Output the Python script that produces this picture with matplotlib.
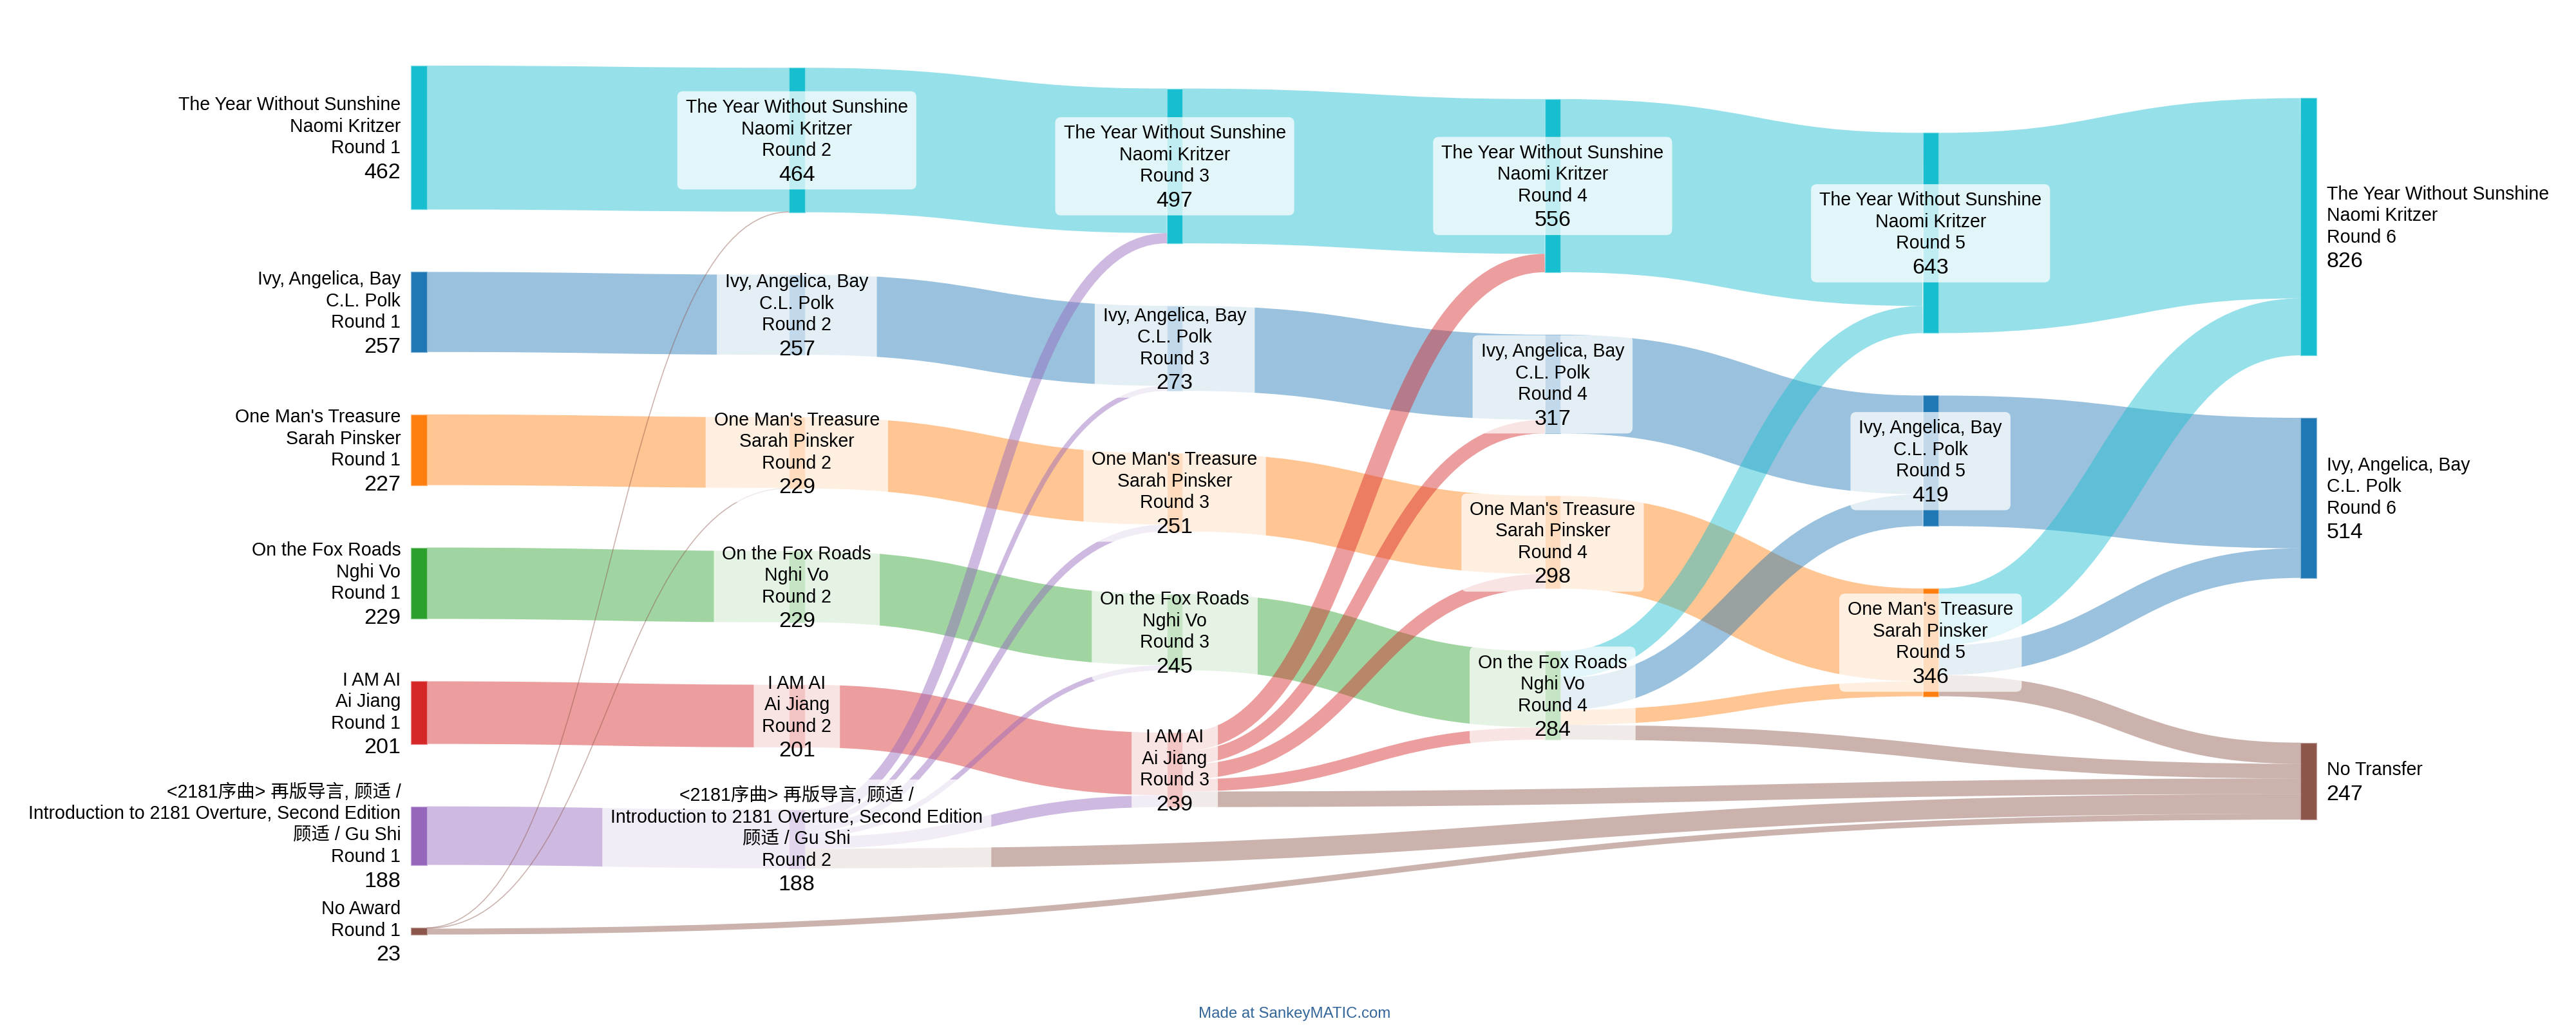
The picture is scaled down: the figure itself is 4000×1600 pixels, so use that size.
import matplotlib
matplotlib.use("Agg")
import matplotlib.pyplot as plt
from matplotlib.path import Path
from matplotlib.patches import PathPatch, Rectangle, FancyBboxPatch
from matplotlib.colors import to_rgb

plt.rcParams["font.family"] = ["Liberation Sans", "Noto Sans CJK SC", "DejaVu Sans"]

# ------------------------------------------------------------------ data
TITLES = [
    "The Year Without Sunshine",
    "Ivy, Angelica, Bay",
    "One Man's Treasure",
    "On the Fox Roads",
    "I AM AI",
    "<2181序曲> 再版导言, 顾适 /\nIntroduction to 2181 Overture, Second Edition",
    "No Award",
]
AUTHORS = ["Naomi Kritzer", "C.L. Polk", "Sarah Pinsker", "Nghi Vo", "Ai Jiang", "顾适 / Gu Shi", ""]
# votes held by each candidate in rounds 1..6 (list ends when eliminated)
VOTES = [
    [462, 464, 497, 556, 643, 826],
    [257, 257, 273, 317, 419, 514],
    [227, 229, 251, 298, 346],
    [229, 229, 245, 284],
    [201, 201, 239],
    [188, 188],
    [23],
]
ELIMINATED = [6, 5, 4, 3, 2]          # candidate eliminated after rounds 1..5
TRANSFERS = [                          # votes passed on to candidates 0..5
    [2, 0, 2, 0, 0, 0],
    [33, 16, 22, 16, 38, 0],
    [59, 44, 47, 39, 0, 0],
    [87, 102, 48, 0, 0, 0],
    [183, 95, 0, 0, 0, 0],
]
NO_TRANSFER = [19, 63, 50, 47, 68]     # exhausted ballots after each elimination
NO_TRANSFER_LABEL = "No Transfer"
ROUND_FMT = "Round {}"
CREDIT = "Made at SankeyMATIC.com"

# ------------------------------------------------------------------ style / layout constants
COLORS = ["#17becf", "#1f77b4", "#ff7f0e", "#2ca02c", "#d62728", "#9467bd", "#8c564b"]
NT_COLOR = "#8c564b"
FLOW_ALPHA = 0.45
W_PX, H_PX, DPI = 4000, 1600, 100
AREA_X0, AREA_X1 = 638.3, 3596.7
AREA_Y0, AREA_Y1 = 87.3, 1451.7
NODE_W = 24.4
NODE_PAD = 97.0
PX_PER_VOTE = 0.4838
ITERATIONS = 6
LABEL_GAP = 16
NORMAL_PX, VALUE_PX = 28.5, 34.0
LINE_PITCH, VALUE_PITCH = 33.5, 36.5
MIN_FLOW_PX = 1.6
PT = 72.0 / DPI


# ------------------------------------------------------------------ graph
def build_graph():
    nodes, key = [], {}
    for r in range(1, 7):
        for c in range(len(VOTES)):
            if len(VOTES[c]) >= r:
                n = dict(cand=c, rnd=r, src=[], tgt=[], index=len(nodes), color=COLORS[c])
                key[(c, r)] = n
                nodes.append(n)
    nt = dict(cand=None, rnd=None, src=[], tgt=[], index=len(nodes), color=NT_COLOR)
    key["NT"] = nt
    nodes.append(nt)
    links = []

    def add(a, b, v):
        l = dict(s=key[a], t=key[b], v=v, index=len(links))
        links.append(l)
        key[a]["src"].append(l)
        key[b]["tgt"].append(l)

    for r in range(1, 6):
        for c in range(len(VOTES)):
            if len(VOTES[c]) > r:
                add((c, r), (c, r + 1), VOTES[c][r - 1])
        e = ELIMINATED[r - 1]
        for c, v in enumerate(TRANSFERS[r - 1]):
            if v:
                add((e, r), (c, r + 1), v)
        add((e, r), "NT", NO_TRANSFER[r - 1])

    for n in nodes:
        n["value"] = max(sum(l["v"] for l in n["src"]), sum(l["v"] for l in n["tgt"]))
    cur, depth = list(nodes), 0
    while cur:
        nxt = []
        for n in cur:
            n["depth"] = depth
            for l in n["src"]:
                if l["t"] not in nxt:
                    nxt.append(l["t"])
        cur, depth = nxt, depth + 1
    ncol = max(n["depth"] for n in nodes) + 1
    cols = [[] for _ in range(ncol)]
    kx = (AREA_X1 - AREA_X0 - NODE_W) / (ncol - 1)
    for n in nodes:
        n["layer"] = n["depth"] if n["src"] else ncol - 1
        n["x0"] = AREA_X0 + n["layer"] * kx
        n["x1"] = n["x0"] + NODE_W
        n["h"] = n["value"] * PX_PER_VOTE
        cols[n["layer"]].append(n)
    for l in links:
        l["w"] = l["v"] * PX_PER_VOTE
    return nodes, links, cols


def sort_links(nodes):
    for n in nodes:
        n["src"].sort(key=lambda l: (l["t"]["y0"], l["index"]))
        n["tgt"].sort(key=lambda l: (l["s"]["y0"], l["index"]))


def layout(nodes, cols):
    p = NODE_PAD
    for col in cols:
        y = AREA_Y0
        for n in col:
            n["y0"] = y
            y += n["h"] + p
        e = (AREA_Y1 - y + p) / (len(col) + 1)
        for i, n in enumerate(col):
            n["y0"] += e * (i + 1)
    sort_links(nodes)

    def target_top(s, t):
        y = s["y0"]
        for l in s["src"]:
            if l["t"] is t:
                break
            y += l["w"]
        for l in t["tgt"]:
            if l["s"] is s:
                break
            y -= l["w"]
        return y

    def source_top(s, t):
        y = t["y0"]
        for l in t["tgt"]:
            if l["s"] is s:
                break
            y += l["w"]
        for l in s["src"]:
            if l["t"] is t:
                break
            y -= l["w"]
        return y

    def push_down(col, y, i, a):
        while i < len(col):
            n = col[i]
            dy = (y - n["y0"]) * a
            if dy > 1e-6:
                n["y0"] += dy
            y = n["y0"] + n["h"] + p
            i += 1

    def push_up(col, y, i, a):
        while i >= 0:
            n = col[i]
            dy = (n["y0"] + n["h"] - y) * a
            if dy > 1e-6:
                n["y0"] -= dy
            y = n["y0"] - p
            i -= 1

    def resolve(col, a):
        i = len(col) >> 1
        sub = col[i]
        push_up(col, sub["y0"] - p, i - 1, a)
        push_down(col, sub["y0"] + sub["h"] + p, i + 1, a)
        push_up(col, AREA_Y1, len(col) - 1, a)
        push_down(col, AREA_Y0, 0, a)

    nc = len(cols)
    for it in range(ITERATIONS):
        alpha = 0.99 ** it
        beta = max(1 - alpha, (it + 1) / ITERATIONS)
        for ci in range(nc - 2, -1, -1):
            for s in cols[ci]:
                if s["src"]:
                    y = sum(source_top(s, l["t"]) * l["v"] for l in s["src"]) / sum(l["v"] for l in s["src"])
                    s["y0"] += (y - s["y0"]) * alpha
                    sort_links(nodes)
            resolve(cols[ci], beta)
        for ci in range(1, nc):
            for t in cols[ci]:
                if t["tgt"]:
                    y = sum(target_top(l["s"], t) * l["v"] for l in t["tgt"]) / sum(l["v"] for l in t["tgt"])
                    t["y0"] += (y - t["y0"]) * alpha
                    sort_links(nodes)
            resolve(cols[ci], beta)
    sort_links(nodes)
    for n in nodes:
        o = n["y0"]
        for l in n["src"]:
            l["ys"] = o + l["w"] / 2
            o += l["w"]
        o = n["y0"]
        for l in n["tgt"]:
            l["yt"] = o + l["w"] / 2
            o += l["w"]


nodes, links, cols = build_graph()
layout(nodes, cols)
last_layer = len(cols) - 1
mid_x = (AREA_X0 + AREA_X1) / 2

# ------------------------------------------------------------------ draw
fig = plt.figure(figsize=(W_PX / DPI, H_PX / DPI), dpi=DPI)
ax = fig.add_axes([0, 0, 1, 1])
ax.set_xlim(0, W_PX)
ax.set_ylim(H_PX, 0)
ax.axis("off")

for l in links:
    s, t = l["s"], l["t"]
    xa, xb = s["x1"], t["x0"]
    xm = (xa + xb) / 2
    color = s["color"] if xm <= mid_x + 1e-6 else t["color"]
    path = Path([(xa, l["ys"]), (xm, l["ys"]), (xm, l["yt"]), (xb, l["yt"])],
                [Path.MOVETO, Path.CURVE4, Path.CURVE4, Path.CURVE4])
    ax.add_patch(PathPatch(path, facecolor="none", edgecolor=color, lw=max(l["w"], MIN_FLOW_PX) * PT,
                           alpha=FLOW_ALPHA, capstyle="butt", zorder=1))

for n in nodes:
    rgb = to_rgb(n["color"])
    light = tuple(0.55 * c + 0.45 for c in rgb)
    ax.add_patch(Rectangle((n["x0"], n["y0"]), NODE_W, n["h"], facecolor=n["color"],
                           edgecolor=light, lw=1.2 * PT, zorder=2))


def label_lines(n):
    if n["cand"] is None:
        return [NO_TRANSFER_LABEL], n["value"]
    lines = TITLES[n["cand"]].split("\n")
    if AUTHORS[n["cand"]]:
        lines.append(AUTHORS[n["cand"]])
    lines.append(ROUND_FMT.format(n["rnd"]))
    return lines, n["value"]


renderer = fig.canvas.get_renderer()
for n in nodes:
    lines, value = label_lines(n)
    pitches = [0.0]
    for i in range(1, len(lines)):
        pitches.append(pitches[-1] + LINE_PITCH)
    pitches.append(pitches[-1] + VALUE_PITCH)
    yc = n["y0"] + n["h"] / 2
    first = yc - pitches[-1] / 2 - 1
    centers = [first + q for q in pitches]
    if n["layer"] == 0:
        x, ha = n["x0"] - LABEL_GAP, "right"
    elif n["layer"] == last_layer:
        x, ha = n["x1"] + LABEL_GAP, "left"
    else:
        x, ha = (n["x0"] + n["x1"]) / 2, "center"
    texts = []
    for txt, cy in zip(lines, centers[:-1]):
        texts.append(ax.text(x, cy + 0.36 * NORMAL_PX, txt, fontsize=NORMAL_PX * PT,
                             ha=ha, va="baseline", color="black", zorder=4))
    texts.append(ax.text(x, centers[-1] + 0.36 * VALUE_PX, f"{value}", fontsize=VALUE_PX * PT,
                         ha=ha, va="baseline", color="black", zorder=4))
    if ha == "center":
        width = max(t.get_window_extent(renderer).width for t in texts)
        bw = width + 26
        top = centers[0] - 23
        bh = centers[-1] + 26 - top
        ax.add_patch(FancyBboxPatch((x - bw / 2, top), bw, bh,
                                    boxstyle="round,pad=0,rounding_size=9",
                                    facecolor="white", edgecolor="none", alpha=0.73, zorder=3))

ax.text(2010, 1575, CREDIT, fontsize=24 * PT, ha="center", va="center", color="#336699", zorder=4)

fig.savefig("out.png", dpi=DPI)
